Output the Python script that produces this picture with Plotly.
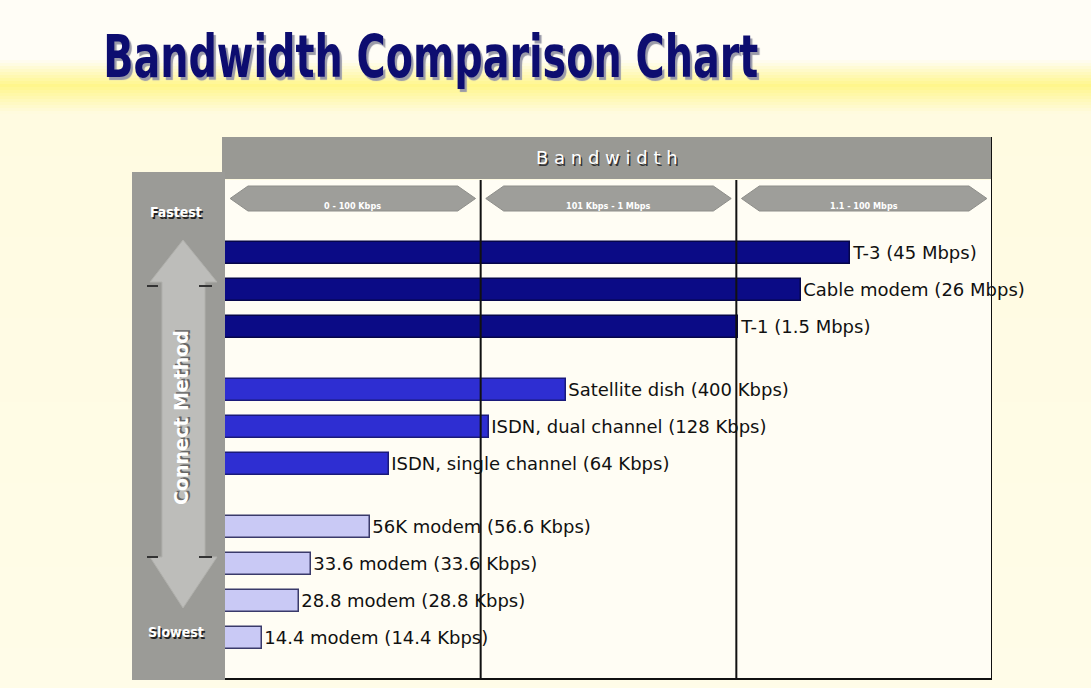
import plotly.graph_objects as go

# ---------------- data ----------------
methods = ["T-3", "Cable modem", "T-1",
           "Satellite dish", "ISDN, dual channel", "ISDN, single channel",
           "56K modem", "33.6 modem", "28.8 modem", "14.4 modem"]
speed_kbps = [45000, 26000, 1500, 400, 128, 64, 56.6, 33.6, 28.8, 14.4]
speed_labels = ["45 Mbps", "26 Mbps", "1.5 Mbps", "400 Kbps", "128 Kbps",
                "64 Kbps", "56.6 Kbps", "33.6 Kbps", "28.8 Kbps", "14.4 Kbps"]
groups = [0, 0, 0, 1, 1, 1, 2, 2, 2, 2]
band_edges_kbps = [0, 100, 1000, 100000]
band_labels = ["0 - 100 Kbps", "101 Kbps - 1 Mbps", "1.1 - 100 Mbps"]
group_colors = ["#0B0B86", "#2E2ED2", "#C9C9F5"]
group_edges = ["#06064A", "#1A1A7A", "#3A3A6A"]
title_text = "Bandwidth Comparison Chart"

W, H = 1091, 688
COND = "DejaVu Sans Condensed, DejaVu Sans"


def band_scale(v):
    """piecewise scale: each bandwidth band gets one equal section of the axis"""
    for i in range(len(band_edges_kbps) - 1):
        lo, hi = band_edges_kbps[i], band_edges_kbps[i + 1]
        if v <= hi:
            return i + (v - lo) / (hi - lo)
    return len(band_edges_kbps) - 1


xs = [band_scale(v) for v in speed_kbps]
GAP = 0.7
ys = [i + g * GAP for i, g in enumerate(groups)]


def px_x(p):
    return p / W


def px_y(p):
    return 1 - p / H


fig = go.Figure()

for g in range(3):
    idx = [i for i in range(len(methods)) if groups[i] == g]
    fig.add_trace(go.Bar(
        x=[xs[i] for i in idx], y=[ys[i] for i in idx], orientation="h",
        width=0.6,
        marker=dict(color=group_colors[g], line=dict(color=group_edges[g], width=1.5)),
        text=[f"{methods[i]} ({speed_labels[i]})" for i in idx],
        textposition="outside", cliponaxis=False,
        textfont=dict(family="DejaVu Sans", size=18, color="#111111"),
        hoverinfo="skip", showlegend=False,
    ))

n_bands = len(band_labels)
XD = [px_x(225), px_x(992)]
top_px, bot_px = 215, 680
y0_pos = (top_px - 253) / 37.0
y1_pos = (bot_px - 253) / 37.0

shapes = []


def lerp(c1, c2, t):
    return tuple(int(round(a + (b - a) * t)) for a, b in zip(c1, c2))


white = (255, 253, 246)
yellow = (255, 246, 140)
cream = (255, 252, 232)
stops = [(0, white), (58, white), (84, yellow), (112, (255, 251, 225)), (688, cream)]
step = 3
for p in range(0, H, step):
    for k in range(len(stops) - 1):
        if stops[k][0] <= p <= stops[k + 1][0]:
            t = (p - stops[k][0]) / max(1, stops[k + 1][0] - stops[k][0])
            c = lerp(stops[k][1], stops[k + 1][1], t)
            break
    shapes.append(dict(type="rect", xref="paper", yref="paper", x0=0, x1=1,
                       y0=px_y(p + step), y1=px_y(p), line_width=0,
                       fillcolor="rgb(%d,%d,%d)" % c, layer="below"))

shapes.append(dict(type="rect", xref="paper", yref="paper",
                   x0=px_x(225), x1=px_x(991), y0=px_y(679), y1=px_y(180),
                   fillcolor="#FFFDF4", line_width=0, layer="below"))
shapes.append(dict(type="rect", xref="paper", yref="paper",
                   x0=px_x(222), x1=px_x(992), y0=px_y(179), y1=px_y(137),
                   fillcolor="#999994", line_width=0, layer="below"))
shapes.append(dict(type="rect", xref="paper", yref="paper",
                   x0=px_x(132), x1=px_x(225), y0=px_y(680), y1=px_y(172),
                   fillcolor="#9B9B97", line_width=0, layer="below"))
cx = 183
ax_pts = [(cx, 240), (217, 282), (205, 282), (205, 557), (217, 557), (cx, 608),
          (150, 557), (162, 557), (162, 282), (150, 282)]
path = "M " + " L ".join(f"{px_x(a)},{px_y(b)}" for a, b in ax_pts) + " Z"
shapes.append(dict(type="path", xref="paper", yref="paper", path=path,
                   fillcolor="#BDBDBA", line=dict(color="#B0B0AC", width=1), layer="below"))
for yy in (286, 557):
    for xa, xb in ((147, 158), (199, 212)):
        shapes.append(dict(type="line", xref="paper", yref="paper",
                           x0=px_x(xa), x1=px_x(xb), y0=px_y(yy), y1=px_y(yy),
                           line=dict(color="#333333", width=2)))

for i in range(n_bands):
    a0, a1 = i + 0.02, i + 1 - 0.02
    tip = 0.07
    yt, yb, ym = px_y(186), px_y(211), px_y(198.5)
    pts = [(a0, ym), (a0 + tip, yt), (a1 - tip, yt), (a1, ym), (a1 - tip, yb), (a0 + tip, yb)]
    p = "M " + " L ".join(f"{a},{b}" for a, b in pts) + " Z"
    shapes.append(dict(type="path", xref="x", yref="paper", path=p,
                       fillcolor="#9E9E9A", line=dict(color="#8E8E8A", width=1)))

for b in range(1, n_bands + 1):
    shapes.append(dict(type="line", xref="x", yref="paper", x0=b, x1=b,
                       y0=px_y(679), y1=px_y(180 if b < n_bands else 137),
                       line=dict(color="#111111", width=2)))
shapes.append(dict(type="line", xref="paper", yref="paper",
                   x0=px_x(225), x1=px_x(992), y0=px_y(679), y1=px_y(679),
                   line=dict(color="#111111", width=2)))

annotations = []
TITLE_W = 655
annotations.append(dict(text=f"<b>{title_text}</b>", xref="paper", yref="paper",
                        x=px_x(103 + TITLE_W / 2), y=px_y(57), xanchor="center", yanchor="middle",
                        showarrow=False,
                        font=dict(family=COND, size=58, color="#0D0D70",
                                  shadow="3px 3px 1px #9A9AA8")))
annotations.append(dict(text="B a n d w i d t h", xref="paper", yref="paper",
                        x=px_x(607), y=px_y(158), xanchor="center", yanchor="middle",
                        showarrow=False,
                        font=dict(family="DejaVu Sans", size=18, color="#FFFFFF",
                                  shadow="1.5px 1.5px 0px #333333")))
for i, lab in enumerate(band_labels):
    annotations.append(dict(text=f"<b>{lab}</b>", xref="x", yref="paper", x=i + 0.5, y=px_y(198.5),
                            xanchor="center", showarrow=False,
                            font=dict(family=COND, size=9, color="#FFFFFF")))
for txt, yy in (("Fastest", 212), ("Slowest", 632)):
    annotations.append(dict(text=f"<b>{txt}</b>", xref="paper", yref="paper",
                            x=px_x(176), y=px_y(yy), xanchor="center", yanchor="middle",
                            showarrow=False,
                            font=dict(family=COND, size=14, color="#FFFFFF",
                                      shadow="1.5px 1.5px 0px #222222")))
annotations.append(dict(text="<b>Connect Method</b>", xref="paper", yref="paper",
                        x=px_x(181), y=px_y(418), xanchor="center", yanchor="middle",
                        showarrow=False, textangle=-90,
                        font=dict(family="DejaVu Sans", size=19, color="#FFFFFF",
                                  shadow="1.5px 1.5px 0px #666666")))

fig.update_layout(
    width=W, height=H,
    margin=dict(l=0, r=0, t=0, b=0),
    paper_bgcolor="#FFFCEB", plot_bgcolor="rgba(0,0,0,0)",
    bargap=0,
    xaxis=dict(domain=XD, range=[0, n_bands], showgrid=False, zeroline=False,
               showticklabels=False, ticks="", fixedrange=True),
    yaxis=dict(domain=[px_y(bot_px), px_y(top_px)], range=[y1_pos, y0_pos],
               showgrid=False, zeroline=False, showticklabels=False, ticks=""),
    shapes=shapes, annotations=annotations,
)

post = """
document.body.style.margin='0';
document.body.style.overflow='hidden';
var ts = document.querySelectorAll('.annotation-text');
ts.forEach(function(t){
  if (t.textContent === '%s') {
    t.setAttribute('textLength', '%d');
    t.setAttribute('lengthAdjust', 'spacingAndGlyphs');
  }
});
""" % (title_text, TITLE_W)

fig.write_html("out.html", post_script=post, config={"displayModeBar": False})
